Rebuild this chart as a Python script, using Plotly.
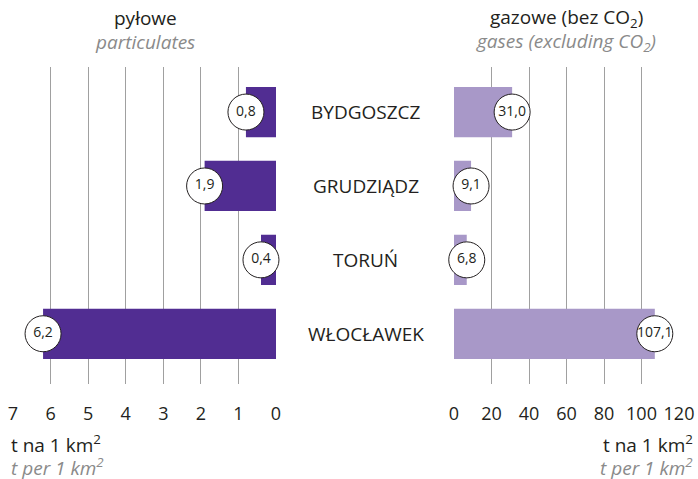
import plotly.graph_objects as go

# data
cities = ["BYDGOSZCZ", "GRUDZIĄDZ", "TORUŃ", "WŁOCŁAWEK"]
particulates = [0.8, 1.9, 0.4, 6.2]
gases = [31.0, 9.1, 6.8, 107.1]
left_ticks = [0, 1, 2, 3, 4, 5, 6, 7]
right_ticks = [0, 20, 40, 60, 80, 100, 120]

DARK_PURPLE = "#512D92"
LIGHT_PURPLE = "#A898C8"
TEXT = "#231F20"
GREY_TEXT = "#8A8A8A"
GRID = "#A0A0A0"
FONT = "Open Sans, sans-serif"

W, H = 698, 479
TOP, BOTTOM = 67, 384  # plot area rows


def fmt(v):
    return f"{v:.1f}".replace(".", ",")


def px(x):
    # pixel column -> paper x
    return x / W


def py(y):
    # pixel row -> paper y (paper spans the plot area vertically)
    return (BOTTOM - y) / (BOTTOM - TOP)


fig = go.Figure()

fig.add_trace(go.Bar(
    x=particulates, y=cities, orientation="h", width=0.68,
    marker=dict(color=DARK_PURPLE, line_width=0),
    xaxis="x", yaxis="y", hoverinfo="skip",
))
fig.add_trace(go.Bar(
    x=gases, y=cities, orientation="h", width=0.68,
    marker=dict(color=LIGHT_PURPLE, line_width=0),
    xaxis="x2", yaxis="y", hoverinfo="skip",
))

# value bubbles at the bar ends
for vals, xa in [(particulates, "x"), (gases, "x2")]:
    fig.add_trace(go.Scatter(
        x=vals, y=cities, xaxis=xa, yaxis="y", mode="markers+text",
        marker=dict(size=36, color="white", line=dict(color=TEXT, width=1)),
        text=[fmt(v) for v in vals], textposition="middle center",
        textfont=dict(size=14, color=TEXT, family=FONT),
        cliponaxis=False, hoverinfo="skip",
    ))

axis_common = dict(
    showgrid=True, gridcolor=GRID, gridwidth=1,
    zeroline=False, showline=False, automargin=False,
    ticks="outside", ticklen=13, tickcolor="rgba(0,0,0,0)",
    tickfont=dict(size=18, color=TEXT, family=FONT),
    ticklabeloverflow="allow",
)

fig.update_layout(
    width=W, height=H, autosize=False,
    paper_bgcolor="white", plot_bgcolor="white",
    showlegend=False,
    font=dict(family=FONT, color=TEXT),
    margin=dict(l=0, r=0, t=TOP, b=H - BOTTOM, pad=0),
    barmode="overlay",
    xaxis=dict(domain=[px(13), px(276)], range=[7, 0],
               tickvals=left_ticks, **axis_common),
    xaxis2=dict(domain=[px(454), px(679)], range=[0, 120],
                tickvals=right_ticks, **axis_common),
    yaxis=dict(range=[3.68, -0.61], showticklabels=False, showgrid=False,
               zeroline=False, showline=False, automargin=False,
               categoryorder="array", categoryarray=cities),
)

# city labels in the middle
for c in cities:
    fig.add_annotation(x=px(366), xref="paper", y=c, yref="y", text=c,
                       showarrow=False, font=dict(size=19, color=TEXT))

# headers
heads = [
    (145, "pyłowe", "<i>particulates</i>"),
    (566, "gazowe (bez CO<sub>2</sub>)", "<i>gases (excluding CO<sub>2</sub>)</i>"),
]
for x, pl, en in heads:
    fig.add_annotation(x=px(x), xref="paper", y=py(18), yref="paper",
                       text=pl, showarrow=False, xanchor="center", yanchor="middle",
                       font=dict(size=19, color=TEXT))
    fig.add_annotation(x=px(x), xref="paper", y=py(42), yref="paper",
                       text=en, showarrow=False, xanchor="center", yanchor="middle",
                       font=dict(size=19, color=GREY_TEXT))

# unit labels under the axes
units = [(px(9), "left"), (px(695), "right")]
for x, anchor in units:
    fig.add_annotation(x=x, xref="paper", y=py(444), yref="paper",
                       text="t na 1 km<sup>2</sup>", showarrow=False,
                       xanchor=anchor, yanchor="middle",
                       font=dict(size=19, color=TEXT))
    fig.add_annotation(x=x, xref="paper", y=py(467), yref="paper",
                       text="<i>t per 1 km<sup>2</sup></i>", showarrow=False,
                       xanchor=anchor, yanchor="middle",
                       font=dict(size=19, color=GREY_TEXT))

# drop the default page margin so the figure fills the window exactly
fig.write_html("out.html", config={"displayModeBar": False},
               post_script="document.body.style.margin='0';")
